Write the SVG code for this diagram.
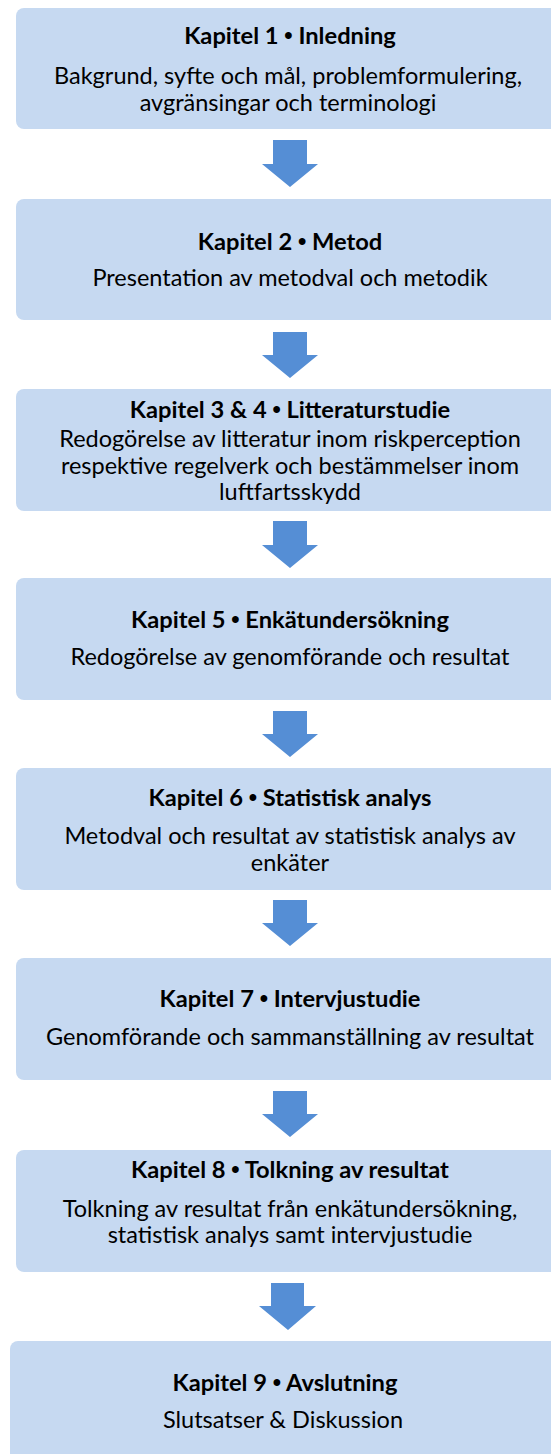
<svg xmlns="http://www.w3.org/2000/svg" width="551" height="1454" viewBox="0 0 551 1454">
<defs>
<style>
.box{fill:#C6D9F1;}
.arrow{fill:#558ED5;}
text{font-family:Lato,"Liberation Sans",sans-serif;fill:#000;text-anchor:middle;}
.t{font-size:23.7px;font-weight:bold;}
.b{font-size:23.5px;}
.d{font-family:"Liberation Sans",sans-serif;font-weight:bold;}
</style>
</defs>
<rect width="551" height="1454" fill="#fff"/>
<g id="connectors">
<polygon class="arrow" points="273,140 307,140 307,164 318,164 290,187 262,164 273,164"/>
<polygon class="arrow" points="273,332 307,332 307,355 318,355 290,378 262,355 273,355"/>
<polygon class="arrow" points="273,521 307,521 307,545 318,545 290,568 262,545 273,545"/>
<polygon class="arrow" points="273,711 307,711 307,734 318,734 290,757 262,734 273,734"/>
<polygon class="arrow" points="273,900 307,900 307,923 318,923 290,946 262,923 273,923"/>
<polygon class="arrow" points="273,1091 307,1091 307,1114 318,1114 290,1137 262,1114 273,1114"/>
<polygon class="arrow" points="271,1283 304,1283 304,1306 316,1306 288,1330 259,1306 271,1306"/>
</g>
<g id="n1"><rect class="box" x="16" y="8" width="560" height="121" rx="8"/>
<text class="t" x="290" y="44">Kapitel 1 <tspan class="d">•</tspan> Inledning</text>
<text class="b" x="288" y="84">Bakgrund, syfte och mål, problemformulering,</text>
<text class="b" x="288" y="111">avgränsingar och terminologi</text></g>
<g id="n2"><rect class="box" x="16" y="199" width="560" height="121" rx="8"/>
<text class="t" x="290" y="250">Kapitel 2 <tspan class="d">•</tspan> Metod</text>
<text class="b" x="290" y="286">Presentation av metodval och metodik</text></g>
<g id="n3"><rect class="box" x="16" y="389" width="560" height="122" rx="8"/>
<text class="t" x="290" y="418">Kapitel 3 &amp; 4 <tspan class="d">•</tspan> Litteraturstudie</text>
<text class="b" x="290" y="447">Redogörelse av litteratur inom riskperception</text>
<text class="b" x="290" y="474">respektive regelverk och bestämmelser inom</text>
<text class="b" x="290" y="500">luftfartsskydd</text></g>
<g id="n4"><rect class="box" x="16" y="578" width="560" height="122" rx="8"/>
<text class="t" x="290" y="628">Kapitel 5 <tspan class="d">•</tspan> Enkätundersökning</text>
<text class="b" x="290" y="665">Redogörelse av genomförande och resultat</text></g>
<g id="n5"><rect class="box" x="16" y="768" width="560" height="122" rx="8"/>
<text class="t" x="290" y="806">Kapitel 6 <tspan class="d">•</tspan> Statistisk analys</text>
<text class="b" x="290" y="844">Metodval och resultat av statistisk analys av</text>
<text class="b" x="290" y="871">enkäter</text></g>
<g id="n6"><rect class="box" x="16" y="958" width="560" height="122" rx="8"/>
<text class="t" x="290" y="1007">Kapitel 7 <tspan class="d">•</tspan> Intervjustudie</text>
<text class="b" x="290" y="1045">Genomförande och sammanställning av resultat</text></g>
<g id="n7"><rect class="box" x="16" y="1150" width="560" height="122" rx="8"/>
<text class="t" x="290" y="1178">Kapitel 8 <tspan class="d">•</tspan> Tolkning av resultat</text>
<text class="b" x="290" y="1217">Tolkning av resultat från enkätundersökning,</text>
<text class="b" x="290" y="1243">statistisk analys samt intervjustudie</text></g>
<g id="n8"><rect class="box" x="10" y="1341" width="570" height="130" rx="8"/>
<text class="t" x="285" y="1391">Kapitel 9 <tspan class="d">•</tspan> Avslutning</text>
<text class="b" x="283" y="1428">Slutsatser &amp; Diskussion</text></g>
</svg>
